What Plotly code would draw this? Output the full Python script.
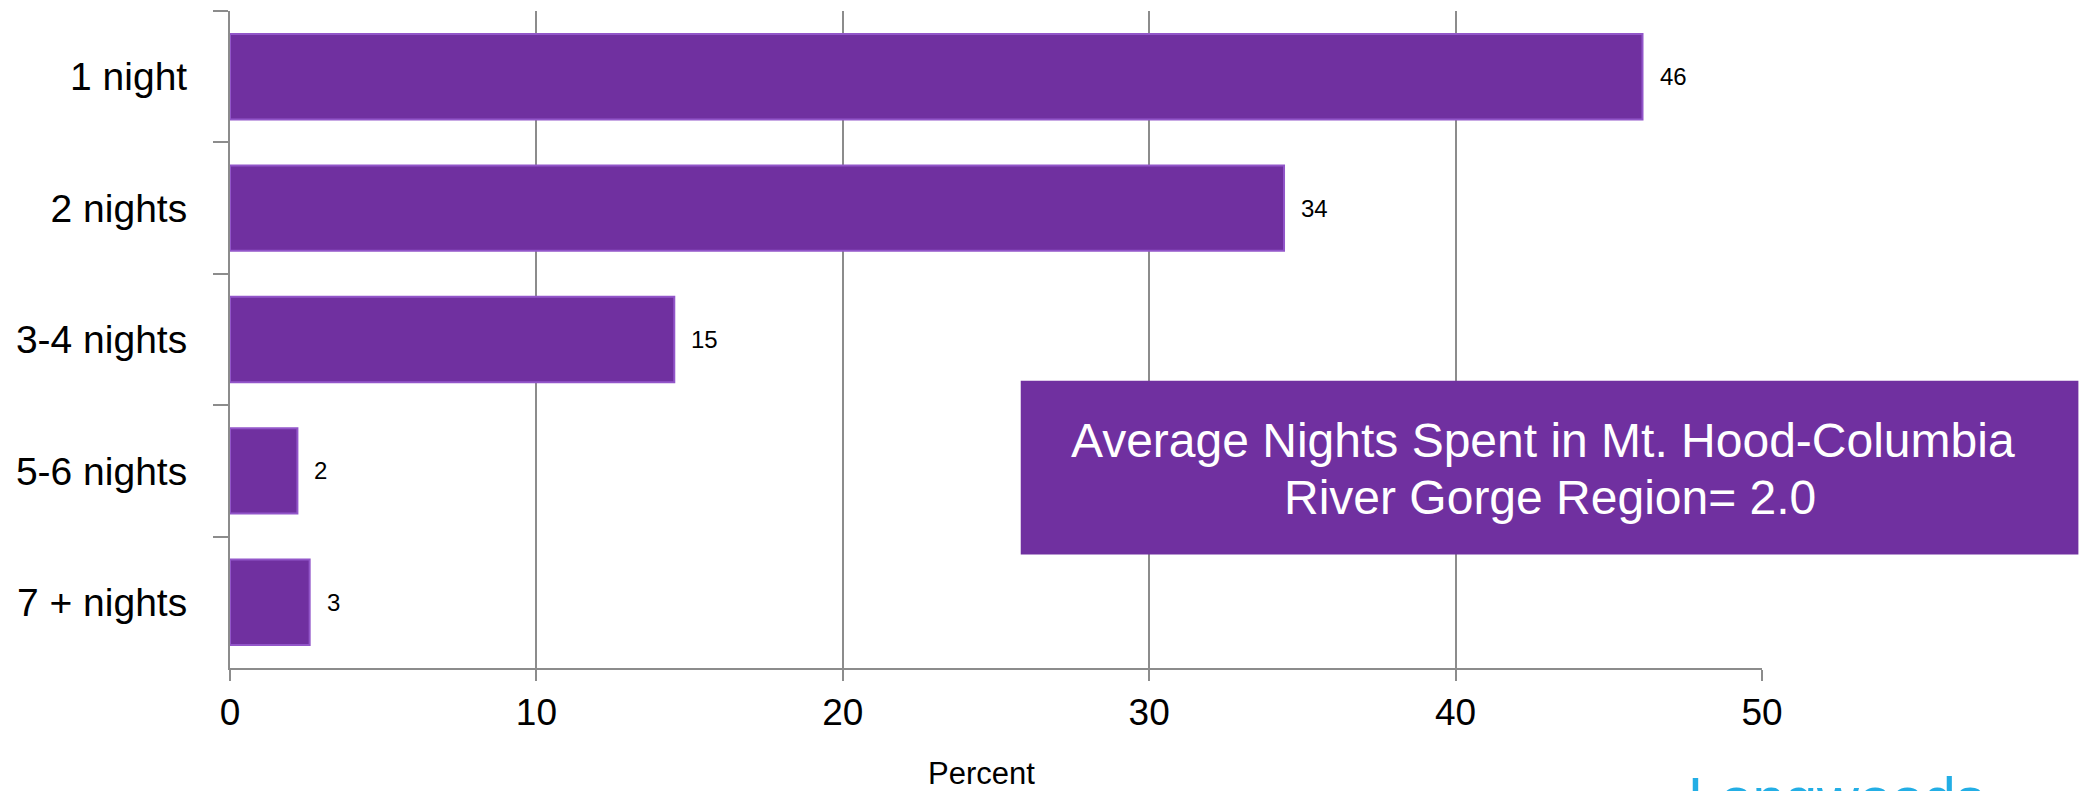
import plotly.graph_objects as go

categories = ["1 night", "2 nights", "3-4 nights", "5-6 nights", "7 + nights"]
values = [46.1, 34.4, 14.5, 2.2, 2.6]
value_labels = ["46", "34", "15", "2", "3"]
x_ticks = [0, 10, 20, 30, 40, 50]
box_lines = ["Average Nights Spent in Mt. Hood-Columbia", "River Gorge Region= 2.0"]

W, H = 2093, 791
L, R, T, B = 230, 1762.5, 11, 668.5


def px(x):
    return (x - L) / (R - L)


def py(y):
    return (B - y) / (B - T)


PURPLE = "#7030A0"
GRID = "#8c8c8c"
FONT = "Liberation Sans, Arial"

fig = go.Figure()
fig.add_trace(go.Bar(
    x=values, y=categories, orientation="h",
    marker=dict(color=PURPLE, line=dict(color="#9256c9", width=2)),
    width=0.65, hoverinfo="skip", showlegend=False,
))

annotations = []
for v, c, t in zip(values, categories, value_labels):
    annotations.append(dict(
        x=v, y=c, xref="x", yref="y", text=t, showarrow=False,
        xanchor="left", yanchor="middle", xshift=15,
        font=dict(family=FONT, size=24, color="black"),
    ))

annotations.append(dict(
    x=px(1543), y=py(440.5), xref="paper", yref="paper", text=box_lines[0],
    showarrow=False, xanchor="center", yanchor="middle",
    font=dict(family=FONT, size=48, color="white"),
))
annotations.append(dict(
    x=px(1550), y=py(498), xref="paper", yref="paper", text=box_lines[1],
    showarrow=False, xanchor="center", yanchor="middle",
    font=dict(family=FONT, size=48, color="white"),
))
annotations.append(dict(
    x=px(982), y=py(774), xref="paper", yref="paper", text="Percent",
    showarrow=False, xanchor="center", yanchor="middle",
    font=dict(family=FONT, size=31, color="black"),
))
annotations.append(dict(
    x=px(1686), y=py(764), xref="paper", yref="paper", text="Longwoods",
    showarrow=False, xanchor="left", yanchor="top",
    font=dict(family=FONT, size=58, color="#23aee5"),
))

fig.update_layout(
    width=W, height=H,
    margin=dict(l=L, r=W - R, t=T, b=H - B, pad=0, autoexpand=False),
    paper_bgcolor="white", plot_bgcolor="white",
    bargap=0.35,
    annotations=annotations,
    shapes=[dict(
        type="rect", xref="paper", yref="paper",
        x0=px(1021), x1=px(2079), y0=py(555), y1=py(381),
        fillcolor=PURPLE, line=dict(width=0), layer="above",
    )],
    xaxis=dict(
        range=[0, 50], tickmode="array", tickvals=x_ticks,
        ticktext=[str(t) for t in x_ticks],
        showgrid=True, gridcolor=GRID, gridwidth=2,
        showline=True, linecolor=GRID, linewidth=2,
        ticks="outside", ticklen=11, tickwidth=2, tickcolor=GRID,
        zeroline=False, automargin=False,
        tickfont=dict(family=FONT, size=37, color="black"),
        ticklabelstandoff=0,
    ),
    yaxis=dict(
        type="category", categoryorder="array", categoryarray=categories,
        range=[4.5, -0.5], automargin=False,
        showgrid=False, showline=True, linecolor=GRID, linewidth=2,
        ticks="outside", ticklen=15, tickwidth=2, tickcolor=GRID,
        tickson="boundaries",
        tickfont=dict(family=FONT, size=39, color="black"),
        ticklabelstandoff=33,
    ),
)

fig.write_html(
    "out.html",
    config={"displayModeBar": False},
    post_script="document.body.style.margin='0';document.body.style.overflow='hidden';",
)
